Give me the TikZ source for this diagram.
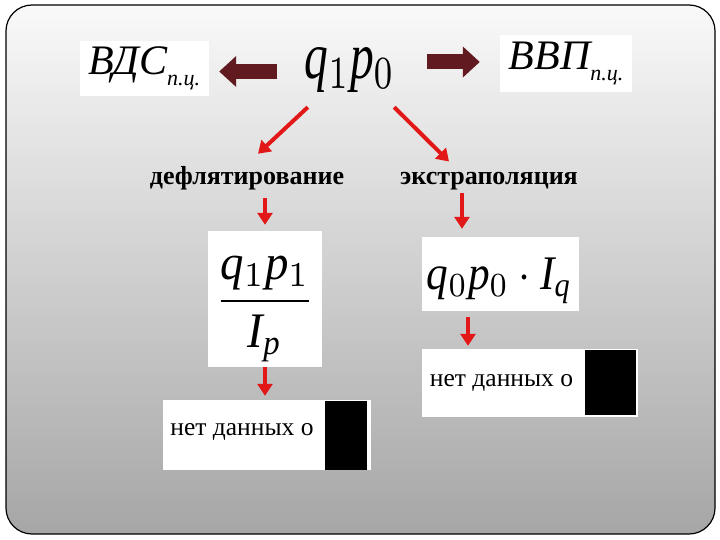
\documentclass[tikz,border=0pt]{standalone}
\usepackage{amsmath}
\usepackage{fontspec}
\setmainfont{LiberationSerif}[Extension=.ttf, UprightFont=*-Regular, BoldFont=*-Bold, ItalicFont=*-Italic, BoldItalicFont=*-BoldItalic]
\usepackage{graphicx}
\usetikzlibrary{arrows.meta}

\definecolor{darkmaroon}{RGB}{96,26,32}
\definecolor{arrowred}{RGB}{226,24,24}
\definecolor{paneltop}{RGB}{249,249,249}
\definecolor{panelbottom}{RGB}{166,166,166}

% label with the small index п.ц.
\newcommand{\pcsub}[1]{\fontsize{42}{46}\selectfont\itshape #1\raisebox{-11pt}{\fontsize{22}{24}\selectfont п.ц.}}

\tikzset{
  whitebox/.style={fill=white, inner sep=0pt},
  plain/.style={inner sep=0pt},
  bigarrow/.style={draw=darkmaroon, line width=15pt, -{Triangle[length=17pt,width=30pt]}},
  redarrow/.style={draw=arrowred, line width=4pt, -{Triangle[length=12pt,width=15pt]}},
}

\begin{document}
\begin{tikzpicture}[x=1pt,y=-1pt]
\useasboundingbox (0,0) rectangle (720,540);

% panel
\shade[top color=paneltop, bottom color=panelbottom, rounded corners=26pt] (6,5) rectangle (715,534);
\draw[line width=1.2pt, rounded corners=26pt] (6,5) rectangle (715,534);

% top row
\node[whitebox, minimum width=129pt, minimum height=55pt] (vdc) at (144.5,68.5) {\pcsub{ВДС}};
\node[plain] (q) at (350,70.5) {\resizebox*{90pt}{45pt}{$\mathit{q}_1\mathit{p}_0$}};
\node[whitebox, minimum width=132pt, minimum height=57pt] (vvp) at (566,63.5) {\pcsub{ВВП}};

\draw[bigarrow, shorten <=28pt, shorten >=10pt] ([yshift=-3pt]vdc.east -| q.west) -- ([yshift=-3pt]vdc.east);
\draw[bigarrow, shorten <=32pt, shorten >=20pt] ([yshift=1.5pt]vvp.west -| q.east) -- ([yshift=1.5pt]vvp.west);

% methods
\node[plain, anchor=base, font=\fontsize{26}{28}\selectfont\bfseries] (defl) at (247,185) {дефлятирование};
\node[plain, anchor=base, font=\fontsize{26}{28}\selectfont\bfseries] (extr) at (489,185) {экстраполяция};

\draw[redarrow] ([shift={(3,14)}]q.south west) -- ([shift={(11,-13)}]defl.north);
\draw[redarrow] ([shift={(-1,14)}]q.south east) -- ([shift={(-40,-11)}]extr.north);

% formulas
\node[whitebox, minimum width=114pt, minimum height=136pt] (frac) at (265,299) {};
\node[plain] (fracf) at (265,309) {\resizebox*{100pt}{106pt}{$\dfrac{\mathit{q}_1\mathit{p}_1}{\mathit{I}_{\mathit{p}}}$}};
\node[whitebox, minimum width=157pt, minimum height=74pt] (extf) at (500.5,274) {};
\node[plain] (extff) at (499.5,281) {\resizebox*{145pt}{46pt}{$\mathit{q}_0\mathit{p}_0\cdot\mathit{I}_{\mathit{q}}$}};

\draw[redarrow, shorten <=7pt, shorten >=6pt] (frac.north |- defl.south) -- (frac.north);
\draw[redarrow, shorten <=2pt, shorten >=8pt] ([xshift=-27pt]extr.south) -- ([xshift=-38.5pt]extf.north);

% no data boxes
\node[whitebox, minimum width=208pt, minimum height=70pt] (nd1) at (267,435) {};
\fill[black] (325,401) rectangle (367,470);
\node[plain, font=\fontsize{25.5}{28}\selectfont] (nd1t) at (242,432) {нет данных о};
\node[whitebox, minimum width=216pt, minimum height=68pt] (nd2) at (530,383) {};
\fill[black] (585,350) rectangle (636,415);
\node[plain, font=\fontsize{25.5}{28}\selectfont] (nd2t) at (501.5,383) {нет данных о};

\draw[redarrow, shorten >=4pt] (frac.south) -- (frac.south |- nd1.north);
\draw[redarrow, shorten <=6pt, shorten >=3pt] ([xshift=-32.5pt]extf.south) -- ([xshift=-62pt]nd2.north);

\end{tikzpicture}
\end{document}
